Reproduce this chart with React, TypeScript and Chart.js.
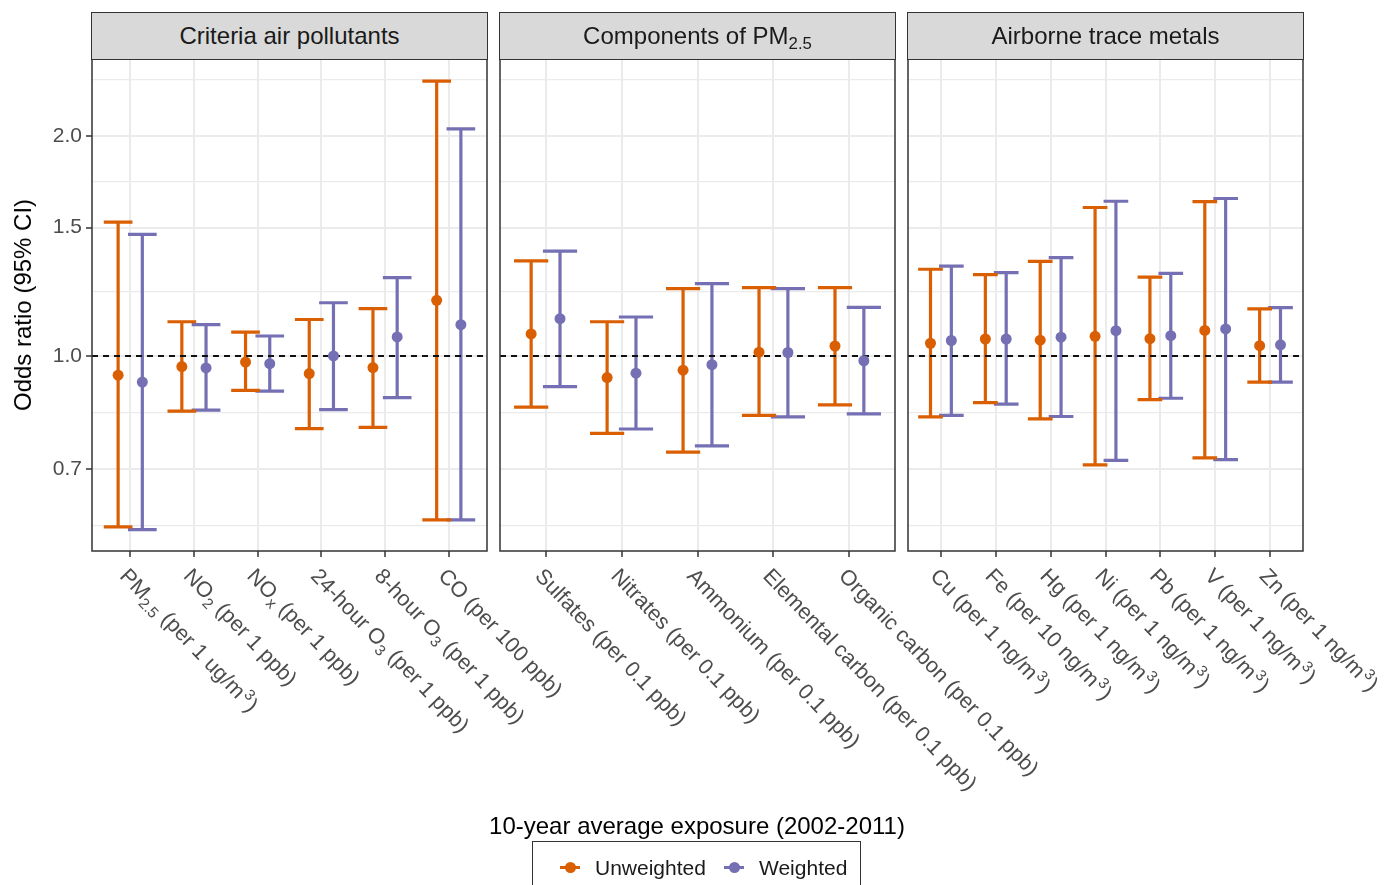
import React, { useEffect, useRef } from "react";
import Chart from "chart.js/auto";

// ---------------- data ----------------
const panelTitles = ["Criteria air pollutants", "Components of PM_{2.5}", "Airborne trace metals"];

const criteriaLabels = [
  "PM_{2.5} (per 1 ug/m^{3})",
  "NO_{2} (per 1 ppb)",
  "NO_{x} (per 1 ppb)",
  "24-hour O_{3} (per 1 ppb)",
  "8-hour O_{3} (per 1 ppb)",
  "CO (per 100 ppb)",
];
const criteriaUnwOR = [0.941, 0.967, 0.981, 0.946, 0.964, 1.192];
const criteriaUnwLo = [0.583, 0.840, 0.897, 0.795, 0.798, 0.596];
const criteriaUnwHi = [1.526, 1.114, 1.078, 1.122, 1.161, 2.381];
const criteriaWOR = [0.921, 0.963, 0.976, 1.0, 1.062, 1.104];
const criteriaWLo = [0.578, 0.843, 0.895, 0.844, 0.877, 0.596];
const criteriaWHi = [1.468, 1.104, 1.065, 1.183, 1.281, 2.048];

const componentLabels = [
  "Sulfates (per 0.1 ppb)",
  "Nitrates (per 0.1 ppb)",
  "Ammonium (per 0.1 ppb)",
  "Elemental carbon (per 0.1 ppb)",
  "Organic carbon (per 0.1 ppb)",
];
const componentUnwOR = [1.072, 0.934, 0.956, 1.012, 1.032];
const componentUnwLo = [0.851, 0.783, 0.738, 0.829, 0.857];
const componentUnwHi = [1.35, 1.114, 1.237, 1.241, 1.241];
const componentWOR = [1.125, 0.947, 0.973, 1.011, 0.985];
const componentWLo = [0.908, 0.794, 0.753, 0.825, 0.833];
const componentWHi = [1.392, 1.131, 1.257, 1.237, 1.166];

const metalLabels = [
  "Cu (per 1 ng/m^{3})",
  "Fe (per 10 ng/m^{3})",
  "Hg (per 1 ng/m^{3})",
  "Ni (per 1 ng/m^{3})",
  "Pb (per 1 ng/m^{3})",
  "V (per 1 ng/m^{3})",
  "Zn (per 1 ng/m^{3})",
];
const metalUnwOR = [1.041, 1.055, 1.051, 1.064, 1.056, 1.084, 1.033];
const metalUnwLo = [0.825, 0.863, 0.82, 0.709, 0.871, 0.725, 0.921];
const metalUnwHi = [1.315, 1.293, 1.348, 1.598, 1.283, 1.628, 1.16];
const metalWOR = [1.05, 1.055, 1.061, 1.083, 1.066, 1.089, 1.036];
const metalWLo = [0.829, 0.859, 0.826, 0.719, 0.875, 0.721, 0.921];
const metalWHi = [1.328, 1.301, 1.364, 1.63, 1.298, 1.644, 1.165];

const seriesNames = ["Unweighted", "Weighted"];
const yMajorTicks = [0.7, 1.0, 1.5, 2.0];
const yMinorTicks = [0.5857, 0.8367, 1.2247, 1.7321, 2.3896];
const yMin = 0.5402;
const yMax = 2.554;
const referenceOR = 1.0;

const xTitle = "10-year average exposure (2002-2011)";
const yTitle = "Odds ratio (95% CI)";

// ---------------- style / layout ----------------
const FONT = '"Liberation Sans", Arial, Helvetica, sans-serif';
const COL_U = "#D95F02";
const COL_W = "#7570B3";
const DODGE = 0.19;
const CAP = 0.225;
const W = 1386;
const H = 885;
const PANEL_TOP = 59;
const PANEL_BOTTOM = 551;
const STRIP_TOP = 12;
const panelBoxes = [
  [92, 487],
  [500, 895],
  [908, 1303],
];

type Seg = { t: string; k: "n" | "sub" | "sup" };
function parseRich(s: string): Seg[] {
  const out: Seg[] = [];
  const re = /(_\{([^}]*)\}|\^\{([^}]*)\})/g;
  let last = 0;
  let m: RegExpExecArray | null;
  while ((m = re.exec(s))) {
    if (m.index > last) out.push({ t: s.slice(last, m.index), k: "n" });
    if (m[2] !== undefined) out.push({ t: m[2], k: "sub" });
    else out.push({ t: m[3], k: "sup" });
    last = re.lastIndex;
  }
  if (last < s.length) out.push({ t: s.slice(last), k: "n" });
  return out;
}

function RichText({ s }: { s: string }) {
  return (
    <>
      {parseRich(s).map((seg, i) =>
        seg.k === "n" ? (
          <span key={i}>{seg.t}</span>
        ) : (
          <span
            key={i}
            style={{
              fontSize: "0.7em",
              position: "relative",
              top: seg.k === "sub" ? "0.3em" : "-0.55em",
            }}
          >
            {seg.t}
          </span>
        )
      )}
    </>
  );
}

function errorbarPath(lo: number[], hi: number[], shift: number) {
  const pts: { x: number; y: number | null }[] = [];
  lo.forEach((l, i) => {
    const x = i + shift;
    const h = hi[i];
    pts.push({ x, y: l }, { x, y: h }, { x, y: null });
    pts.push({ x: x - CAP, y: l }, { x: x + CAP, y: l }, { x, y: null });
    pts.push({ x: x - CAP, y: h }, { x: x + CAP, y: h }, { x, y: null });
  });
  return pts;
}

const isMajor = (v: number) => yMajorTicks.some((t) => Math.abs(t - v) < 1e-9);

const LABEL_SIZE = 21.6;
const LABEL_SMALL = 15.3;
const LABEL_ANGLE = (46.2 * Math.PI) / 180;

function makePlugin(labels: string[]) {
  return {
    id: "panelDecor",
    afterDraw(chart: any) {
      const { ctx, chartArea } = chart;
      ctx.save();
      ctx.strokeStyle = "#333333";
      ctx.lineWidth = 1.5;
      ctx.strokeRect(chartArea.left, chartArea.top, chartArea.right - chartArea.left, chartArea.bottom - chartArea.top);
      const xs = chart.scales.x;
      ctx.fillStyle = "#4D4D4D";
      ctx.textBaseline = "alphabetic";
      ctx.textAlign = "left";
      labels.forEach((lab, i) => {
        const px = xs.getPixelForValue(i);
        ctx.save();
        ctx.translate(px, chartArea.bottom + 15);
        ctx.rotate(LABEL_ANGLE);
        let x = 0;
        const base = 16;
        parseRich(lab).forEach((seg) => {
          if (seg.k === "n") {
            ctx.font = `${LABEL_SIZE}px ${FONT}`;
            ctx.fillText(seg.t, x, base);
            x += ctx.measureText(seg.t).width;
          } else if (seg.k === "sub") {
            ctx.font = `${LABEL_SMALL}px ${FONT}`;
            ctx.fillText(seg.t, x, base + 5);
            x += ctx.measureText(seg.t).width;
          } else {
            ctx.font = `${LABEL_SMALL}px ${FONT}`;
            ctx.fillText(seg.t, x + 1.5, base - 8);
            x += ctx.measureText(seg.t).width + 3;
          }
        });
        ctx.restore();
      });
      ctx.restore();
    },
  };
}

function buildChart(
  canvas: HTMLCanvasElement,
  idx: number,
  labels: string[],
  uOR: number[],
  uLo: number[],
  uHi: number[],
  wOR: number[],
  wLo: number[],
  wHi: number[]
) {
  const n = labels.length;
  const [left, right] = panelBoxes[idx];
  const showY = idx === 0;
  const allY = [...yMinorTicks, ...yMajorTicks].sort((a, b) => a - b);
  return new Chart(canvas, {
    type: "line",
    data: {
      datasets: [
        {
          label: seriesNames[0] + " points",
          data: uOR.map((v, i) => ({ x: i - DODGE, y: v })),
          showLine: false,
          pointRadius: 5.5,
          pointHoverRadius: 5.5,
          pointBackgroundColor: COL_U,
          pointBorderWidth: 0,
          borderColor: COL_U,
        },
        {
          label: seriesNames[1] + " points",
          data: wOR.map((v, i) => ({ x: i + DODGE, y: v })),
          showLine: false,
          pointRadius: 5.5,
          pointHoverRadius: 5.5,
          pointBackgroundColor: COL_W,
          pointBorderWidth: 0,
          borderColor: COL_W,
        },
        {
          label: "reference",
          data: [
            { x: -0.6, y: referenceOR },
            { x: n - 0.4, y: referenceOR },
          ],
          borderColor: "#111111",
          borderWidth: 2,
          borderDash: [6, 5],
          pointRadius: 0,
        },
        {
          label: seriesNames[0],
          data: errorbarPath(uLo, uHi, -DODGE) as any,
          borderColor: COL_U,
          borderWidth: 3.2,
          pointRadius: 0,
          spanGaps: false,
          borderCapStyle: "butt",
        },
        {
          label: seriesNames[1],
          data: errorbarPath(wLo, wHi, DODGE) as any,
          borderColor: COL_W,
          borderWidth: 3.2,
          pointRadius: 0,
          spanGaps: false,
          borderCapStyle: "butt",
        },
      ],
    },
    options: {
      animation: false,
      responsive: false,
      devicePixelRatio: 1,
      layout: {
        padding: { left: showY ? 0 : left, right: W - right, top: PANEL_TOP, bottom: H - PANEL_BOTTOM },
      },
      plugins: { legend: { display: false }, tooltip: { enabled: false } },
      events: [],
      scales: {
        x: {
          type: "linear",
          min: -0.6,
          max: n - 0.4,
          afterBuildTicks: (s: any) => {
            s.ticks = labels.map((_, i) => ({ value: i }));
          },
          afterFit: (s: any) => {
            s.height = 0;
          },
          ticks: { display: false },
          grid: { color: "#EBEBEB", lineWidth: 2, tickColor: "#333333", tickLength: 6, tickWidth: 1.5 },
          border: { display: false },
        },
        y: {
          type: "logarithmic",
          min: yMin,
          max: yMax,
          bounds: "data",
          afterBuildTicks: (s: any) => {
            s.ticks = allY.map((v) => ({ value: v }));
          },
          afterFit: (s: any) => {
            s.width = showY ? left : 0;
          },
          ticks: {
            display: showY,
            autoSkip: false,
            padding: 4,
            color: "#4D4D4D",
            font: { family: FONT, size: 21 },
            callback: (v: any) => (isMajor(Number(v)) ? Number(v).toFixed(1) : ""),
          },
          grid: {
            color: "#EBEBEB",
            lineWidth: (c: any) => (c.tick && isMajor(c.tick.value) ? 2 : 1.3),
            tickColor: (c: any) => (c.tick && isMajor(c.tick.value) ? "#333333" : "rgba(0,0,0,0)"),
            drawTicks: showY,
            tickLength: 6,
            tickWidth: 1.5,
          },
          border: { display: false },
        },
      },
    } as any,
    plugins: [makePlugin(labels)],
  });
}

export default function App() {
  const r1 = useRef<HTMLCanvasElement>(null);
  const r2 = useRef<HTMLCanvasElement>(null);
  const r3 = useRef<HTMLCanvasElement>(null);

  useEffect(() => {
    const c1 = buildChart(r1.current!, 0, criteriaLabels, criteriaUnwOR, criteriaUnwLo, criteriaUnwHi, criteriaWOR, criteriaWLo, criteriaWHi);
    const c2 = buildChart(r2.current!, 1, componentLabels, componentUnwOR, componentUnwLo, componentUnwHi, componentWOR, componentWLo, componentWHi);
    const c3 = buildChart(r3.current!, 2, metalLabels, metalUnwOR, metalUnwLo, metalUnwHi, metalWOR, metalWLo, metalWHi);
    return () => {
      c1.destroy();
      c2.destroy();
      c3.destroy();
    };
  }, []);

  const canvasStyle: React.CSSProperties = { position: "absolute", left: 0, top: 0, width: W, height: H };

  return (
    <div
      style={{
        position: "absolute",
        left: 0,
        top: 0,
        width: W,
        height: H,
        background: "#ffffff",
        overflow: "hidden",
        fontFamily: FONT,
      }}
    >
      <canvas ref={r1} width={W} height={H} style={canvasStyle} />
      <canvas ref={r2} width={W} height={H} style={canvasStyle} />
      <canvas ref={r3} width={W} height={H} style={canvasStyle} />

      {panelTitles.map((t, i) => (
        <div
          key={t}
          style={{
            position: "absolute",
            left: panelBoxes[i][0] - 0.75,
            top: STRIP_TOP,
            width: panelBoxes[i][1] - panelBoxes[i][0] + 1.5,
            height: PANEL_TOP - STRIP_TOP + 0.75,
            boxSizing: "border-box",
            background: "#D9D9D9",
            border: "1.5px solid #333333",
            display: "flex",
            alignItems: "center",
            justifyContent: "center",
            fontSize: 24,
            lineHeight: 1,
            color: "#1A1A1A",
            whiteSpace: "nowrap",
          }}
        >
          <span>
            <RichText s={t} />
          </span>
        </div>
      ))}

      <div style={{ position: "absolute", left: 23, top: 305, width: 0, height: 0 }}>
        <div
          style={{
            position: "absolute",
            left: 0,
            top: 0,
            transform: "translate(-50%, -50%) rotate(-90deg)",
            fontSize: 24,
            lineHeight: 1,
            whiteSpace: "nowrap",
            color: "#000",
          }}
        >
          {yTitle}
        </div>
      </div>

      <div style={{ position: "absolute", left: 697, top: 826, width: 0, height: 0 }}>
        <div
          style={{
            position: "absolute",
            left: 0,
            top: 0,
            transform: "translate(-50%, -50%)",
            fontSize: 24,
            lineHeight: 1,
            whiteSpace: "nowrap",
            color: "#000",
          }}
        >
          {xTitle}
        </div>
      </div>

      <div
        style={{
          position: "absolute",
          left: 532,
          top: 841,
          width: 329,
          height: 70,
          boxSizing: "border-box",
          border: "1.5px solid #333333",
          background: "#fff",
        }}
      >
        {seriesNames.map((name, i) => {
          const col = i === 0 ? COL_U : COL_W;
          const kx = i === 0 ? 27 : 191;
          return (
            <React.Fragment key={name}>
              <div style={{ position: "absolute", left: kx, top: 23.5, width: 20, height: 3, background: col }} />
              <div
                style={{
                  position: "absolute",
                  left: kx + 10 - 5.5,
                  top: 25 - 5.5,
                  width: 11,
                  height: 11,
                  borderRadius: "50%",
                  background: col,
                }}
              />
              <div
                style={{
                  position: "absolute",
                  left: kx + 35,
                  top: 25,
                  transform: "translateY(-50%)",
                  fontSize: 21,
                  lineHeight: 1,
                  whiteSpace: "nowrap",
                  color: "#1A1A1A",
                }}
              >
                {name}
              </div>
            </React.Fragment>
          );
        })}
      </div>
    </div>
  );
}
